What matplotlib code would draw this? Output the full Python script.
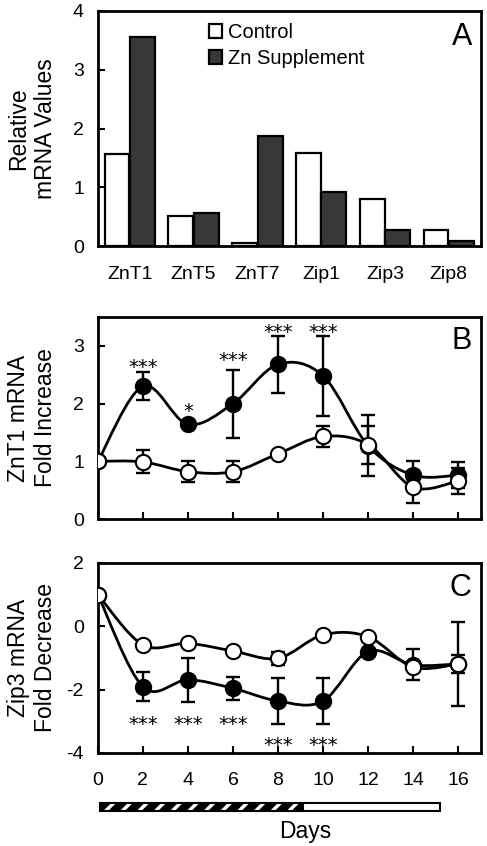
import numpy as np
import matplotlib
matplotlib.use('Agg')
import matplotlib.pyplot as plt
from matplotlib.path import Path
from matplotlib.patches import PathPatch, Rectangle
from matplotlib.transforms import blended_transform_factory

plt.rcParams['font.family'] = ['Liberation Sans', 'DejaVu Sans']
plt.rcParams['hatch.linewidth'] = 2.5
plt.rcParams['axes.unicode_minus'] = False

# ---------------- data ----------------
genes = ['ZnT1', 'ZnT5', 'ZnT7', 'Zip1', 'Zip3', 'Zip8']
ctrl_vals = [1.56, 0.52, 0.06, 1.58, 0.80, 0.28]
zn_vals = [3.56, 0.56, 1.88, 0.93, 0.28, 0.09]

days = [0, 2, 4, 6, 8, 10, 12, 14, 16]

znt1_ctrl = [1.00, 0.99, 0.82, 0.82, 1.13, 1.43, 1.29, 0.55, 0.66]
znt1_ctrl_err = [0.0, 0.20, 0.18, 0.18, 0.04, 0.19, 0.33, 0.28, 0.23]
znt1_zn = [1.00, 2.30, 1.64, 2.00, 2.68, 2.48, 1.27, 0.76, 0.76]
znt1_zn_err = [0.0, 0.24, 0.05, 0.59, 0.49, 0.69, 0.53, 0.24, 0.22]
znt1_sig_days = [2, 4, 6, 8, 10]
znt1_sig_text = ['***', '*', '***', '***', '***']
znt1_sig_y = [2.73, 1.98, 2.85, 3.34, 3.34]

zip3_ctrl = [1.00, -0.59, -0.54, -0.78, -1.01, -0.27, -0.33, -1.29, -1.19]
zip3_ctrl_err = [0.0, 0.05, 0.05, 0.05, 0.20, 0.05, 0.05, 0.10, 0.28]
zip3_zn = [1.00, -1.91, -1.69, -1.96, -2.36, -2.36, -0.80, -1.22, -1.19]
zip3_zn_err = [0.0, 0.46, 0.70, 0.37, 0.73, 0.73, 0.05, 0.49, 1.32]
zip3_sig_days = [2, 4, 6, 8, 10]
zip3_sig_text = ['***', '***', '***', '***', '***']
zip3_sig_y = [-2.90, -2.90, -2.90, -3.57, -3.57]

zn_period = (0.1, 9.1)       # supplementation period (hatched)
post_period = (9.1, 15.2)    # follow-up (open)

# ---------------- helpers ----------------
def smooth_path(x, y):
    x = np.asarray(x, float)
    y = np.asarray(y, float)
    n = len(x)
    verts = [(x[0], y[0])]
    codes = [Path.MOVETO]
    for i in range(n - 1):
        i0 = max(i - 1, 0)
        i3 = min(i + 2, n - 1)
        c1 = (x[i] + (x[i + 1] - x[i0]) / 6.0, y[i] + (y[i + 1] - y[i0]) / 6.0)
        c2 = (x[i + 1] - (x[i3] - x[i]) / 6.0, y[i + 1] - (y[i3] - y[i]) / 6.0)
        verts += [c1, c2, (x[i + 1], y[i + 1])]
        codes += [Path.CURVE4] * 3
    return Path(verts, codes)


def style_axes(ax):
    for s in ax.spines.values():
        s.set_linewidth(2.0)
    ax.tick_params(axis='y', direction='in', length=5, width=1.5, pad=10,
                   labelsize=14, left=True, right=False)


def draw_series(ax, x, y, err, filled, z):
    face = 'black' if filled else 'white'
    ax.errorbar(x, y, yerr=err, fmt='none', ecolor='black', elinewidth=1.7,
                capsize=5, capthick=1.7, zorder=z)
    ax.add_patch(PathPatch(smooth_path(x, y), facecolor='none', edgecolor='black',
                           linewidth=2.0, zorder=z + 0.1))
    ax.plot(x, y, 'o', ms=11, mfc=face, mec='black', mew=1.5, zorder=z + 0.2)


def label_panel(ax, letter, ytop):
    ax.text(0.977, ytop, letter, transform=ax.transAxes, ha='right', va='top',
            fontsize=22)


def ylabel2(ax, text):
    ax.text(-0.172, 0.5, text, transform=ax.transAxes, rotation=90, ha='center',
            va='center', fontsize=16.5, linespacing=1.22, multialignment='center')


def stars(ax, d, t, yv):
    ax.annotate(t, xy=(d, yv), xytext=(0, -8.5), textcoords='offset points',
                ha='center', va='baseline', fontsize=14, family=['DejaVu Sans'])


fig = plt.figure(figsize=(4.87, 8.46), dpi=100)
axA = fig.add_axes([0.201, 0.709, 0.786, 0.278])
axB = fig.add_axes([0.201, 0.3865, 0.786, 0.2388])
axC = fig.add_axes([0.201, 0.110, 0.786, 0.2246])

# ---------------- panel A ----------------
xg = np.arange(len(genes)) + 0.5
w = 0.39
b1 = axA.bar(xg - 0.2, ctrl_vals, width=w, color='white', edgecolor='black', linewidth=1.6,
             label='Control')
b2 = axA.bar(xg + 0.2, zn_vals, width=w, color='#383838', edgecolor='black', linewidth=1.6,
             label='Zn Supplement')
axA.set_xlim(0, 6)
axA.set_ylim(0, 4)
axA.set_yticks([0, 1, 2, 3, 4])
axA.set_xticks(xg)
axA.set_xticklabels(genes)
style_axes(axA)
axA.tick_params(axis='x', length=0, pad=14, labelsize=14)
axA.legend(handles=[b1, b2], loc='upper left', bbox_to_anchor=(0.29, 0.948), frameon=False,
           fontsize=14.5, handlelength=0.65, handleheight=0.65, handletextpad=0.3,
           labelspacing=0.35, borderpad=0, borderaxespad=0)
label_panel(axA, 'A', 0.955)
ylabel2(axA, 'Relative\nmRNA Values')

# ---------------- panel B ----------------
draw_series(axB, days, znt1_zn, znt1_zn_err, True, 3)
draw_series(axB, days, znt1_ctrl, znt1_ctrl_err, False, 4)
for d, t, yv in zip(znt1_sig_days, znt1_sig_text, znt1_sig_y):
    stars(axB, d, t, yv)
axB.set_xlim(0, 17)
axB.set_ylim(0, 3.5)
axB.set_yticks([0, 1, 2, 3])
axB.set_xticks(days)
axB.set_xticklabels([])
style_axes(axB)
axB.tick_params(axis='x', direction='in', length=5, width=1.5)
label_panel(axB, 'B', 0.955)
ylabel2(axB, 'ZnT1 mRNA\nFold Increase')

# ---------------- panel C ----------------
draw_series(axC, days, zip3_zn, zip3_zn_err, True, 3)
draw_series(axC, days, zip3_ctrl, zip3_ctrl_err, False, 4)
for d, t, yv in zip(zip3_sig_days, zip3_sig_text, zip3_sig_y):
    stars(axC, d, t, yv)
axC.set_xlim(0, 17)
axC.set_ylim(-4, 2)
axC.set_yticks([-4, -2, 0, 2])
axC.set_xticks(days)
style_axes(axC)
axC.tick_params(axis='x', direction='in', length=5, width=1.5, pad=14, labelsize=14)
label_panel(axC, 'C', 0.945)
ylabel2(axC, 'Zip3 mRNA\nFold Decrease')

# timeline bar under panel C
tr = blended_transform_factory(axC.transData, axC.transAxes)
y0, h = -0.305, 0.042
axC.add_patch(Rectangle((zn_period[0], y0), zn_period[1] - zn_period[0], h, transform=tr,
                        facecolor='black', edgecolor='white', hatch='//', linewidth=0,
                        clip_on=False))
axC.add_patch(Rectangle((zn_period[0], y0), zn_period[1] - zn_period[0], h, transform=tr,
                        facecolor='none', edgecolor='black', linewidth=1.5, clip_on=False))
axC.add_patch(Rectangle((post_period[0], y0), post_period[1] - post_period[0], h, transform=tr,
                        facecolor='white', edgecolor='black', linewidth=1.5, clip_on=False))
axC.text(0.543, -0.416, 'Days', transform=axC.transAxes, ha='center', va='center',
         fontsize=16.5)

fig.savefig('out.png', dpi=100)
